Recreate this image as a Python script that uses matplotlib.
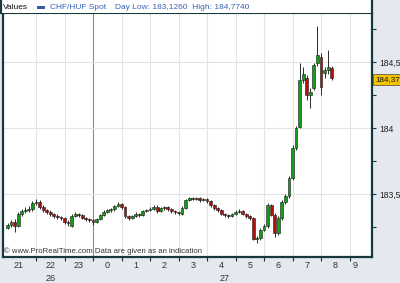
import matplotlib
matplotlib.use("Agg")
import matplotlib.pyplot as plt
import matplotlib.transforms as mtransforms
from matplotlib.patches import Rectangle
import numpy as np

plt.rcParams['font.family'] = ['Liberation Sans', 'DejaVu Sans']

# CHF/HUF spot, 7.5 min candles; time in hours since 22:00 of day 26
t_start, t_step = -1.0, 0.125
open_ = [183.242, 183.265, 183.288, 183.258, 183.348, 183.371, 183.379, 183.386, 183.432, 183.439,
         183.402, 183.379, 183.364, 183.348, 183.333, 183.326, 183.318, 183.288, 183.258, 183.333,
         183.348, 183.341, 183.318, 183.311, 183.303, 183.288, 183.311, 183.341, 183.364, 183.379,
         183.386, 183.409, 183.424, 183.402, 183.333, 183.318, 183.333, 183.348, 183.341, 183.371,
         183.379, 183.386, 183.402, 183.371, 183.394, 183.402, 183.386, 183.371, 183.364, 183.348,
         183.394, 183.455, 183.470, 183.462, 183.470, 183.455, 183.462, 183.447, 183.417, 183.394,
         183.379, 183.348, 183.341, 183.333, 183.348, 183.364, 183.371, 183.348, 183.333, 183.318,
         183.159, 183.167, 183.227, 183.258, 183.417, 183.341, 183.205, 183.318, 183.439, 183.485,
         183.621, 183.848, 184.008, 184.364, 184.379, 184.250, 184.303, 184.492, 184.538, 184.417,
         184.439, 184.455]
high = [183.280, 183.303, 183.311, 183.364, 183.386, 183.402, 183.409, 183.447, 183.462, 183.455,
        183.417, 183.386, 183.379, 183.356, 183.348, 183.333, 183.326, 183.303, 183.348, 183.364,
        183.356, 183.348, 183.326, 183.318, 183.311, 183.318, 183.348, 183.379, 183.386, 183.394,
        183.417, 183.439, 183.432, 183.409, 183.341, 183.341, 183.364, 183.356, 183.379, 183.386,
        183.402, 183.417, 183.417, 183.402, 183.409, 183.409, 183.394, 183.379, 183.371, 183.409,
        183.462, 183.477, 183.477, 183.477, 183.477, 183.470, 183.470, 183.455, 183.424, 183.402,
        183.386, 183.356, 183.348, 183.356, 183.379, 183.386, 183.379, 183.356, 183.341, 183.326,
        183.182, 183.242, 183.273, 183.432, 183.424, 183.356, 183.333, 183.455, 183.500, 183.636,
        183.871, 184.015, 184.492, 184.462, 184.402, 184.303, 184.492, 184.773, 184.568, 184.462,
        184.591, 184.470]
low = [183.235, 183.250, 183.212, 183.250, 183.333, 183.356, 183.364, 183.371, 183.417, 183.386,
       183.364, 183.348, 183.333, 183.318, 183.311, 183.303, 183.273, 183.258, 183.250, 183.326,
       183.326, 183.311, 183.295, 183.288, 183.265, 183.280, 183.303, 183.333, 183.356, 183.364,
       183.371, 183.402, 183.386, 183.318, 183.303, 183.311, 183.326, 183.326, 183.333, 183.364,
       183.371, 183.379, 183.356, 183.364, 183.379, 183.371, 183.356, 183.348, 183.341, 183.341,
       183.386, 183.447, 183.455, 183.455, 183.439, 183.447, 183.432, 183.402, 183.379, 183.364,
       183.341, 183.326, 183.318, 183.326, 183.341, 183.356, 183.341, 183.318, 183.303, 183.152,
       183.129, 183.152, 183.220, 183.242, 183.333, 183.174, 183.189, 183.303, 183.424, 183.470,
       183.606, 183.833, 184.000, 184.341, 184.212, 184.152, 184.288, 184.470, 184.250, 184.379,
       184.409, 184.364]
close = [183.265, 183.288, 183.258, 183.348, 183.371, 183.379, 183.386, 183.432, 183.439, 183.402,
         183.379, 183.364, 183.348, 183.333, 183.326, 183.318, 183.288, 183.280, 183.333, 183.348,
         183.341, 183.318, 183.311, 183.303, 183.288, 183.311, 183.341, 183.364, 183.379, 183.386,
         183.409, 183.424, 183.402, 183.333, 183.318, 183.333, 183.348, 183.341, 183.371, 183.379,
         183.386, 183.402, 183.371, 183.394, 183.402, 183.386, 183.371, 183.364, 183.356, 183.394,
         183.455, 183.470, 183.462, 183.470, 183.455, 183.462, 183.447, 183.417, 183.394, 183.379,
         183.348, 183.341, 183.333, 183.348, 183.364, 183.371, 183.348, 183.333, 183.318, 183.159,
         183.167, 183.227, 183.258, 183.417, 183.341, 183.205, 183.318, 183.439, 183.485, 183.621,
         183.848, 184.000, 184.364, 184.409, 184.250, 184.273, 184.477, 184.553, 184.311, 184.439,
         184.462, 184.379]

hour_lbl = ["21", "22", "23", "0", "1", "2", "3", "4", "5", "6", "7", "8", "9"]
date_lbl = ["26", "27"]
y_ticks = [183.5, 184.0, 184.5]
y_lbl = ["183,5", "184", "184,5"]
last = 184.37
day_low, day_high = 183.1260, 184.7740

dark = "#17393d"
fig = plt.figure(figsize=(4, 2.83), dpi=100, facecolor="#e5e8ee")
ax = fig.add_axes([3 / 400, 26 / 283, 369 / 400, 244 / 283])
ax.set_xlim(-1.158, 11.789)
ax.set_ylim(183.023, 184.871)

# grid
for h in range(12):
    ax.axvline(h, color="#8c8c8c" if h == 2 else "#e3e3e3", lw=0.8, zorder=0)
for y in y_ticks:
    ax.axhline(y, color="#e3e3e3", lw=0.8, zorder=0)

# candles
o, hi, lo, c = map(np.array, (open_, high, low, close))
t = t_start + t_step * np.arange(len(c))
cols = np.where(c > o, "#119c19", np.where(c < o, "#b40f0f", "#303030"))
ax.vlines(t, lo, hi, color="#2a2a2a", lw=0.7, zorder=2)
body = np.where(np.abs(c - o) < 0.005, 0.005, c - o)
ax.bar(t, body, bottom=o, width=0.1, color=cols, edgecolor="#1a1a1a",
       lw=0.4, zorder=3)

# axes
ax.yaxis.tick_right()
ax.set_yticks(y_ticks, y_lbl)
ax.set_yticks([183.25, 183.75, 184.25, 184.75], minor=True)
ax.tick_params(axis="y", which="both", direction="out", length=3, width=0.8,
               color=dark, labelsize=6.2, pad=2, labelcolor="#222222")
ax.set_xticks(range(12), [""] * 12)
ax.tick_params(axis="x", direction="out", length=3, width=0.8, color=dark)
for s in ("left", "right", "bottom"):
    ax.spines[s].set_color(dark)
    ax.spines[s].set_linewidth(1.6)
ax.spines["top"].set_color(dark)
ax.spines["top"].set_linewidth(0.8)

tr = mtransforms.blended_transform_factory(ax.transData, ax.transAxes)
xpos = np.arange(len(hour_lbl)) - 0.5
xpos[0], xpos[-1] = -0.6, 11.2
for x, lab in zip(xpos, hour_lbl):
    ax.text(x, -0.033, lab, transform=tr, ha="center", va="center",
            fontsize=6.5, color="#333333")
for x, lab in zip([0.5, 6.6], date_lbl):
    ax.text(x, -0.088, lab, transform=tr, ha="center", va="center",
            fontsize=6.5, color="#333333")

ax.text(0.003, 0.022, "© www.ProRealTime.com Data are given as an indication",
        transform=ax.transAxes, fontsize=5.6, color="#333333", va="center")

# last price tag
trp = mtransforms.blended_transform_factory(ax.transAxes, ax.transData)
ax.text(1.008, last, f"{last:.2f}".replace(".", ","), transform=trp,
        ha="left", va="center", fontsize=5.8, color="#111111", clip_on=False,
        bbox=dict(boxstyle="square,pad=0.25", fc="#f3c300", ec="#444444", lw=0.5))

# header strip
hy = 1 - 13 / 283
fig.patches.append(Rectangle((0, hy), 372 / 400, 13 / 283, transform=fig.transFigure,
                             fc="white", ec="none", zorder=0))
fig.add_artist(plt.Line2D([372 / 400, 372 / 400], [hy, 1], color=dark, lw=1.6))
fig.add_artist(plt.Line2D([0.002, 0.002], [hy, 1], color=dark, lw=1.6))
fig.text(3 / 400, 1 - 7.5 / 283, "Values", fontsize=6, color="#111111", va="center")
fig.patches.append(Rectangle((37 / 400, 1 - 9 / 283), 8 / 400, 3 / 283,
                             transform=fig.transFigure, fc="#3a5ba8", ec="none"))
fig.text(50 / 400, 1 - 7.5 / 283, "CHF/HUF Spot", fontsize=6, color="#3a62b0", va="center")
fig.text(115 / 400, 1 - 7.5 / 283,
         f"Day Low: {day_low:.4f}  High: {day_high:.4f}".replace(".", ","),
         fontsize=6, color="#3a62b0", va="center")

fig.savefig("out.png", dpi=100, facecolor=fig.get_facecolor())
